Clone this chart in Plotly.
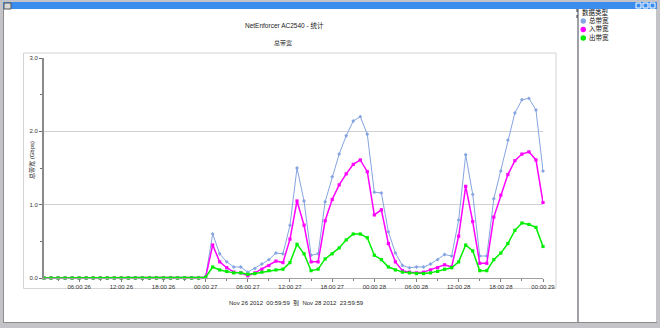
import pandas as pd
import plotly.graph_objects as go

# ---------------- data ----------------
times = pd.date_range("2012-11-26 01:00", periods=72, freq="h")
series_names = ["总带宽", "入带宽", "出带宽"]
total_bw = [0, 0, 0, 0, 0, 0, 0, 0, 0, 0, 0, 0, 0, 0, 0, 0, 0, 0, 0, 0, 0, 0, 0,
            0.02, 0.60, 0.33, 0.22, 0.15, 0.15, 0.08, 0.13, 0.19, 0.25, 0.34, 0.33,
            0.72, 1.50, 1.05, 0.31, 0.33, 1.04, 1.38, 1.69, 1.94, 2.14, 2.20, 1.96,
            1.17, 1.16, 0.63, 0.34, 0.17, 0.14, 0.15, 0.15, 0.19, 0.25, 0.32, 0.30,
            0.79, 1.68, 1.14, 0.30, 0.30, 1.08, 1.46, 1.88, 2.25, 2.43, 2.45, 2.29, 1.46]
in_bw = [0, 0, 0, 0, 0, 0, 0, 0, 0, 0, 0, 0, 0, 0, 0, 0, 0, 0, 0, 0, 0, 0, 0,
         0.01, 0.45, 0.22, 0.14, 0.08, 0.07, 0.03, 0.07, 0.12, 0.17, 0.23, 0.21,
         0.53, 1.05, 0.72, 0.22, 0.22, 0.78, 1.07, 1.27, 1.42, 1.55, 1.61, 1.45,
         0.86, 0.93, 0.47, 0.22, 0.10, 0.08, 0.07, 0.08, 0.11, 0.14, 0.18, 0.15,
         0.57, 1.25, 0.77, 0.20, 0.20, 0.83, 1.13, 1.41, 1.60, 1.69, 1.72, 1.61, 1.03]
out_bw = [0, 0, 0, 0, 0, 0, 0, 0, 0, 0, 0, 0, 0, 0, 0, 0, 0, 0, 0, 0, 0, 0, 0,
          0.01, 0.15, 0.11, 0.09, 0.07, 0.07, 0.05, 0.06, 0.08, 0.10, 0.11, 0.12,
          0.21, 0.46, 0.33, 0.10, 0.12, 0.26, 0.33, 0.41, 0.52, 0.60, 0.60, 0.55,
          0.31, 0.25, 0.15, 0.11, 0.08, 0.07, 0.06, 0.06, 0.07, 0.09, 0.12, 0.14,
          0.22, 0.45, 0.37, 0.10, 0.10, 0.25, 0.34, 0.47, 0.65, 0.75, 0.73, 0.69, 0.43]
series_values = [total_bw, in_bw, out_bw]
colors = ["#86a4e0", "#ff00ff", "#00ee00"]

title_text = "NetEnforcer AC2540 - 统计"
subtitle_text = "总带宽"
y_title = "总带宽 (Gbps)"
legend_title = "数据类型"
range_text = "Nov 26 2012  00:59:59  到  Nov 28 2012  23:59:59"

# ---------------- layout helpers ----------------
W, H = 660, 328
L, R, T, B = 44, 543, 58, 278  # plot area in pixels


def px(x):
    return (x - L) / (R - L)


def py(y):
    return (B - y) / (B - T)


FONT = "Liberation Sans, DejaVu Sans, Noto Sans CJK SC"
LEG_FS = 6.5
LINE_H = 1.3 * LEG_FS

fig = go.Figure()
widths = [1, 1.5, 1.5]
msizes = [3, 3.2, 3.2]
symbols = ["diamond", "square", "square"]
for name, vals, col, w, ms, sym in zip(series_names, series_values, colors, widths, msizes, symbols):
    fig.add_trace(go.Scatter(
        x=times, y=vals, name=name, mode="lines+markers",
        line=dict(color=col, width=w),
        marker=dict(color=col, size=ms, symbol=sym, line=dict(width=0)),
        showlegend=False, cliponaxis=False,
    ))

shapes = []
shapes.append(dict(type="rect", xref="paper", yref="paper", layer="below",
                   x0=px(4), x1=px(656), y0=py(9), y1=py(322),
                   fillcolor="white", line=dict(width=0)))
shapes.append(dict(type="rect", xref="paper", yref="paper", layer="below",
                   x0=px(3), x1=px(657), y0=py(2), y1=py(9),
                   fillcolor="#3b8ded", line=dict(width=0)))
shapes.append(dict(type="line", xref="paper", yref="paper", layer="below",
                   x0=px(3.5), x1=px(3.5), y0=py(9), y1=py(322),
                   line=dict(color="#8c8c8c", width=1)))
shapes.append(dict(type="line", xref="paper", yref="paper", layer="below",
                   x0=px(3), x1=px(657), y0=py(322.5), y1=py(322.5),
                   line=dict(color="#8c8c8c", width=1)))
shapes.append(dict(type="line", xref="paper", yref="paper", layer="below",
                   x0=px(578), x1=px(578), y0=py(9), y1=py(322),
                   line=dict(color="#a0a0a8", width=2)))
shapes.append(dict(type="line", xref="paper", yref="paper", layer="above",
                   x0=px(577), x1=px(577), y0=py(9), y1=py(18),
                   line=dict(color="#333333", width=1, dash="dot")))
shapes.append(dict(type="rect", xref="paper", yref="paper", layer="below",
                   x0=px(23.5), x1=px(556), y0=py(53), y1=py(288.5),
                   fillcolor="white", line=dict(color="#d4d4d4", width=1)))
shapes.append(dict(type="rect", xref="paper", yref="paper", layer="above",
                   x0=px(4), x1=px(11), y0=py(3), y1=py(9),
                   fillcolor="#d8d8d8", line=dict(color="#555555", width=1)))
for bx in (636, 643, 650):
    shapes.append(dict(type="rect", xref="paper", yref="paper", layer="above",
                       x0=px(bx), x1=px(bx + 5), y0=py(3), y1=py(8),
                       fillcolor="rgba(0,0,0,0)", line=dict(color="white", width=1)))

# legend markers, aligned with legend text lines
leg_mid = 29.5
leg_y = [leg_mid + (i - 1) * LINE_H for i in range(len(series_names))]
for col, ly in zip(colors, leg_y):
    shapes.append(dict(type="circle", xref="paper", yref="paper", layer="above",
                       x0=px(580.5), x1=px(586), y0=py(ly - 2.75), y1=py(ly + 2.75),
                       fillcolor=col, line=dict(width=0)))

annotations = [
    dict(text=title_text, x=px(284), y=py(26), xref="paper", yref="paper",
         showarrow=False, font=dict(size=6.5, color="#222222", family=FONT),
         xanchor="center", yanchor="middle"),
    dict(text=subtitle_text, x=px(283), y=py(43), xref="paper", yref="paper",
         showarrow=False, font=dict(size=6, color="#222222", family=FONT),
         xanchor="center", yanchor="middle"),
    dict(text=y_title, x=px(32), y=py(160), xref="paper", yref="paper",
         showarrow=False, textangle=-90, font=dict(size=6, color="#222222", family=FONT),
         xanchor="center", yanchor="middle"),
    dict(text=range_text, x=px(227), y=py(303), xref="paper", yref="paper",
         showarrow=False, font=dict(size=6, color="#222222", family=FONT),
         xanchor="left", yanchor="middle"),
    dict(text=legend_title, x=px(580), y=py(leg_y[0] - LINE_H), xref="paper", yref="paper",
         showarrow=False, font=dict(size=LEG_FS, color="#111111", family=FONT),
         xanchor="left", yanchor="middle"),
    dict(text="<br>".join(series_names), x=px(586.5), y=py(leg_mid), xref="paper", yref="paper",
         showarrow=False, align="left", font=dict(size=LEG_FS, color="#111111", family=FONT),
         xanchor="left", yanchor="middle"),
]

fig.update_layout(
    width=W, height=H,
    margin=dict(l=L, r=W - R, t=T, b=H - B, pad=0),
    paper_bgcolor="#c4c4c8", plot_bgcolor="white",
    font=dict(family=FONT, size=6, color="#333333"),
    shapes=shapes, annotations=annotations,
    xaxis=dict(
        type="date",
        range=[times[0], times[-1]],
        tick0="2012-11-26 00:00", dtick=6 * 3600 * 1000,
        tickformat="%H:%M %d",
        ticks="outside", ticklen=3, tickcolor="#808080", tickwidth=1,
        minor=dict(dtick=3 * 3600 * 1000, tick0="2012-11-26 00:00",
                   ticks="outside", ticklen=2, tickcolor="#808080"),
        showline=True, linecolor="#a0a0a0", linewidth=1,
        showgrid=False, zeroline=False,
        tickfont=dict(size=6, color="#333333"),
        fixedrange=True,
    ),
    yaxis=dict(
        range=[0, 3], dtick=1, tickformat=".1f",
        ticks="outside", ticklen=3, tickcolor="#707070",
        minor=dict(dtick=0.5, ticks="outside", ticklen=2, tickcolor="#707070", showgrid=False),
        showline=True, linecolor="#8a8a8a", linewidth=2,
        showgrid=True, gridcolor="#d0d0d0", gridwidth=1,
        zeroline=False,
        tickfont=dict(size=6, color="#333333"),
        fixedrange=True,
    ),
)

fig.write_html("out.html")
